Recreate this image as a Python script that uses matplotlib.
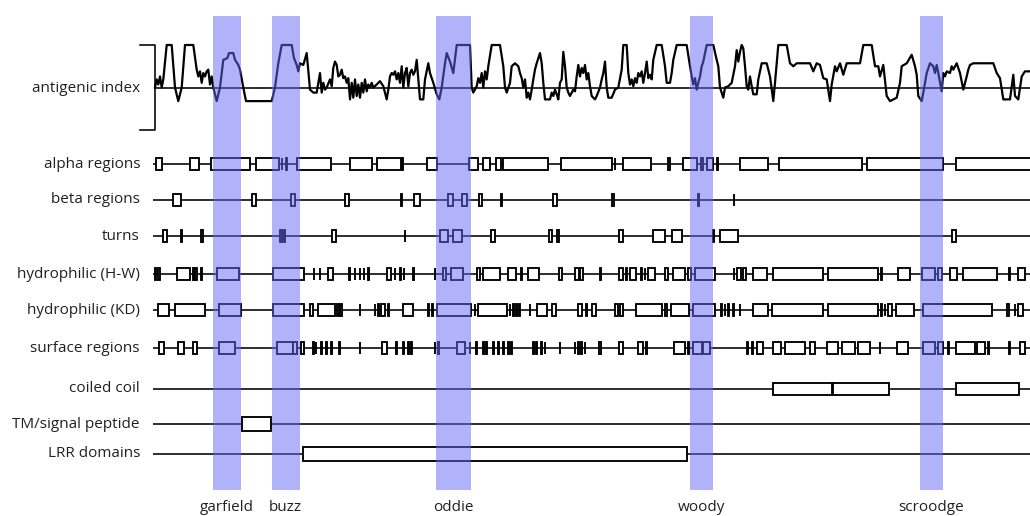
import matplotlib
matplotlib.use("Agg")
import matplotlib.pyplot as plt
from matplotlib.patches import Rectangle

plt.rcParams['font.family'] = ['Open Sans', 'DejaVu Sans']

# ---------------- data (positions along the sequence, drawing units) ----------------
anti_pos = [155.0, 156.7, 158.3, 160.0, 161.7, 163.3, 166.7, 171.7, 175.0, 178.3, 181.7, 185.0, 193.3,
            196.7, 198.3, 200.0, 201.7, 203.3, 205.0, 206.7, 208.3, 210.0, 211.7, 213.3, 216.7, 220.0,
            223.3, 227.3, 229.0, 233.3, 235.0, 238.3, 240.0, 243.3, 246.0, 271.7, 275.0, 278.3, 281.7,
            291.7, 294.0, 296.7, 298.3, 300.0, 303.3, 306.7, 310.0, 313.3, 316.7, 318.3, 320.0, 321.7,
            323.3, 325.0, 326.7, 330.0, 331.7, 333.3, 335.0, 336.7, 338.3, 340.0, 341.7, 343.3, 345.0,
            346.7, 348.3, 350.0, 351.7, 353.3, 355.0, 356.7, 358.3, 360.0, 361.7, 363.3, 365.0, 366.7,
            368.3, 370.0, 371.7, 373.3, 376.7, 380.0, 383.3, 386.7, 388.3, 390.0, 391.7, 393.3, 395.0,
            396.7, 398.3, 400.0, 401.7, 403.3, 405.0, 406.7, 408.3, 410.0, 411.7, 413.3, 415.0, 416.7,
            418.3, 420.0, 423.3, 425.0, 428.3,
            430.0, 433.3, 436.7, 439.3, 441.7, 445.0, 446.7, 450.0, 453.3, 456.7, 470.0, 471.7, 473.3,
            476.7, 478.3, 480.0, 481.7, 483.3, 485.0, 486.7, 488.3, 491.7, 500.0, 503.3, 505.0, 506.7,
            510.0, 511.7, 515.0, 518.3, 520.0, 521.7, 523.3, 525.0, 526.7, 528.3, 530.0, 531.7, 533.3,
            535.0, 536.7, 540.0, 541.7, 543.3, 545.0, 550.0, 551.7, 553.3, 555.0, 556.7, 558.3, 560.0,
            561.7, 563.3, 565.0, 566.7, 568.3, 570.0, 571.7, 573.3, 575.0, 576.7, 578.3, 580.0, 581.7,
            583.3, 585.0, 586.7, 588.3, 590.0, 591.7, 595.0, 596.7, 600.0, 601.7, 603.3, 605.0, 606.7,
            608.3, 611.7, 615.0, 618.3, 621.7, 623.3, 626.7, 628.3, 630.0, 631.7, 633.3, 635.0, 636.7,
            638.3, 640.0, 641.7, 643.3, 645.0, 646.7, 648.3, 650.0, 651.7, 653.3, 656.7, 661.7, 665.0,
            666.7, 670.0, 671.7, 673.3, 676.7, 686.7, 690.0, 691.7, 693.3, 695.0, 696.7, 698.3, 700.0,
            701.7, 703.3, 706.7, 713.3, 716.7, 718.3, 720.0,
            723.3, 725.0, 728.3, 731.7, 735.0, 736.7, 738.3, 740.0, 741.7, 743.3, 745.0, 746.7, 748.3,
            750.0, 751.7, 753.3, 756.7, 758.3, 761.7, 766.7, 770.0, 773.3, 775.0, 778.3, 786.7, 790.0,
            793.3, 796.7, 810.0, 813.3, 816.7, 820.0, 823.3, 826.7, 830.0, 831.7, 835.0, 836.7, 840.0,
            843.3, 846.7, 860.0, 863.3, 871.7, 875.0, 878.3, 880.0, 883.3, 886.7, 890.0, 893.3, 896.7,
            900.0, 901.7, 906.7, 911.7, 915.0, 916.7, 918.3, 921.7, 923.3, 926.7, 930.0, 933.3, 935.0,
            936.7, 938.3, 941.7, 943.3, 945.0, 946.7, 950.0, 951.7, 953.3, 956.7, 960.0, 963.3, 966.7,
            968.3, 970.0, 973.3, 993.3, 996.7, 1000.0, 1003.3, 1010.0, 1013.3, 1015.0, 1018.3, 1021.7,
            1025.0, 1030.0]
anti_val = [0.0, 0.19, 0.07, 0.26, 0.0, 0.19, 1.0, 1.0, 0.0, -0.32, 0.0, 1.0, 1.0,
            0.42, 0.26, 0.38, 0.11, 0.34, 0.26, 0.38, 0.42, 0.07, 0.26, 0.0, -0.32, 0.0,
            0.65, 0.69, 0.81, 0.81, 0.65, 0.53, 0.42, 0.0, -0.32, -0.32, 0.0, 0.57, 1.0,
            1.0, 0.69, 0.53, 0.38, 0.57, 0.53, 0.81, -0.05, -0.12, -0.12, 0.11, 0.34, -0.12,
            0.11, -0.05, 0.0, 0.19, 0.03, 0.46, 0.61, 0.53, 0.26, 0.30, 0.42, 0.22, 0.26,
            0.11, 0.22, -0.28, 0.11, -0.24, 0.19, -0.20, 0.07, -0.24, 0.11, -0.12, 0.19, -0.09,
            0.07, 0.0, 0.11, 0.0, 0.07, 0.15, 0.03, -0.28, -0.05, 0.26, 0.34, 0.30, 0.38,
            0.19, 0.34, 0.11, 0.50, 0.0, 0.34, 0.46, 0.03, 0.34, 0.42, 0.30, 0.38, 0.65,
            0.19, -0.28, -0.28, 0.19, 0.57,
            0.34, 0.11, -0.16, -0.28, 0.0, 0.57, 0.81, 0.61, 0.34, 1.0, 1.0, 0.0, -0.12,
            0.03, 0.22, 0.11, 0.34, 0.0, 0.38, 0.19, 0.50, 1.0, 1.0, 0.50, 0.0, -0.12,
            0.11, 0.50, 0.57, 0.50, 0.34, 0.22, 0.0, 0.19, -0.24, -0.12, -0.28, -0.05, 0.19,
            0.42, 0.57, 0.81, 0.57, 0.11, -0.28, -0.28, -0.12, -0.20, -0.05, -0.16, -0.28, 0.11,
            0.19, 0.84, 0.50, 0.0, -0.12, -0.20, -0.12, -0.05, -0.09, 0.26, 0.53, 0.26, 0.46,
            0.34, 0.53, 0.19, 0.34, 0.03, -0.20, -0.28, -0.20, 0.0, 0.19, 0.34, 0.61, 0.0,
            -0.24, -0.24, -0.05, 0.0, 0.42, 1.0, 1.0, 0.34, 0.07, 0.19, 0.03, 0.22, 0.11,
            0.34, 0.26, 0.38, 0.11, 0.34, 0.61, 0.22, 0.30, 0.19, 0.65, 1.0, 1.0, 0.50,
            0.11, 0.11, 0.34, 0.65, 1.0, 1.0, 0.50, 0.26, 0.07, 0.22, -0.05, 0.11, 0.26,
            0.50, 0.61, 1.0, 1.0, 0.65, 0.50, 0.0,
            -0.24, 0.0, 0.03, 0.11, 0.50, 0.88, 0.61, 0.84, 1.0, 0.92, 0.50, 0.03, -0.05,
            0.26, 0.03, -0.16, -0.16, 0.19, 0.57, 0.57, 0.26, -0.32, 0.11, 1.0, 1.0, 0.57,
            0.50, 0.57, 0.57, 0.38, 0.57, 0.53, 0.22, 0.19, -0.32, 0.07, 0.50, 0.38, 0.57,
            0.30, 0.57, 0.57, 1.0, 1.0, 0.50, 0.50, 0.26, 0.53, -0.20, -0.32, -0.28, -0.24,
            0.11, 0.50, 0.57, 0.77, 0.50, 0.30, -0.20, -0.32, -0.12, 0.34, 0.57, 0.50, 0.34,
            0.53, 0.34, -0.09, 0.34, 0.26, 0.38, 0.34, 0.50, 0.42, 0.57, 0.34, -0.05, 0.26,
            0.42, 0.53, 0.57, 0.57, 0.34, 0.22, -0.28, -0.28, 0.30, -0.20, -0.28, 0.26,
            0.38, 0.38]

track_names = ["alpha regions", "beta regions", "turns", "hydrophilic (H-W)", "hydrophilic (KD)",
               "surface regions", "coiled coil", "TM/signal peptide", "LRR domains"]

alpha_regions = [(156, 161.7), (190, 199.3), (210.7, 250), (256, 279.3), (281.5, 282.2), (286.3, 287),
                 (296.7, 330.7), (350, 371.7), (377.3, 400.7), (402.4, 403.1), (427.3, 437.3),
                 (469.3, 478.3), (482.7, 490), (496, 500.7), (502.7, 548.3), (561, 611.7), (614.7, 615.4),
                 (623.3, 650.7), (668.3, 670), (683.3, 696.7), (700.7, 702.7), (707.3, 712.7),
                 (717, 717.7), (740, 768.3), (779.3, 861.7), (866.7, 943.3), (956, 1032)]
beta_regions = [(173.3, 180.7), (251.7, 255.7), (291, 295), (345, 349.3), (401.4, 402.1), (414.3, 420),
                (448.3, 452.7), (462.3, 467.3), (479.3, 481.7), (501.4, 502.1), (552.7, 556.7),
                (611.7, 614), (698, 698.7), (733.7, 734.4)]
turns = [(163.3, 167.3), (181.4, 182.1), (200.7, 202.7), (280, 281.5), (283.5, 285), (331.7, 335.7),
         (404.7, 405.4), (440, 448.3), (452.7, 461.7), (491, 495), (549.3, 551.7), (556.7, 559.3),
         (619.3, 622.7), (652.7, 665), (671.7, 681.7), (713, 713.7), (720, 738.3), (952.3, 955.7)]
hydro_hw = [(154.7, 156), (158.3, 160), (177.3, 190), (192.7, 194.3), (195, 196.7), (201.4, 202.1),
            (217.3, 239.3), (273.3, 304), (313.7, 314.4), (319.7, 320.4), (328.3, 333.3),
            (349, 349.7), (354.7, 355.4), (359.7, 360.4), (363.7, 364.4), (368, 368.7),
            (386.7, 390.7), (394.7, 395.4), (399.5, 401), (403.7, 404.4), (413, 413.7),
            (434.7, 435.4), (442.7, 446), (450.7, 463.3), (476.7, 480), (482.7, 500), (508.3, 516),
            (521.4, 522.1), (528.3, 539.3), (559.3, 561.7), (575, 579.3), (580, 583.3), (600.4, 601.1),
            (619.3, 623.3), (626.4, 627.1), (630, 636), (641.4, 642.1), (644.7, 645.4), (648.3, 655),
            (665, 668.3), (672.7, 685), (688.3, 690.7), (695, 715), (733.7, 734.4), (737.3, 740.7),
            (743.3, 746), (752.7, 766.7), (773.3, 822.7), (827.7, 878.3), (881.4, 882.1),
            (898.3, 910), (921.7, 935), (938.3, 941.7), (950, 957.3), (962.7, 997.3),
            (1009, 1009.7), (1018.3, 1025)]
hydro_kd = [(158.3, 169.3), (175, 205), (219, 240.7), (273.3, 304), (310, 313.3), (318.3, 335),
            (337.3, 338.8), (340.2, 341.7), (359.7, 360.4), (374.7, 375.4), (378, 378.7), (380.7, 385),
            (388, 388.7), (402.7, 413.3), (428, 428.7), (432, 432.7), (436.5, 470.7), (474.7, 475.4),
            (478.3, 506.7), (509.7, 510.4), (513, 513.7), (516.4, 517.1), (519, 519.7), (529.7, 530.4),
            (536.7, 546.7), (551.7, 556), (578.3, 581.7), (586.4, 587.1), (591.7, 596), (615, 618.3),
            (620, 623.3), (636, 661.7), (665, 667.3), (670.7, 689.3), (693.3, 715), (721.4, 722.1),
            (724.7, 725.4), (727.5, 729), (733, 733.7), (739.7, 740.4), (753.3, 768.3),
            (771.7, 822.7), (828.3, 878.3), (881.4, 882.1), (884.7, 885.4), (888.3, 891.7),
            (896, 914), (923.3, 991.7), (1006.7, 1009.3), (1014.7, 1015.4), (1018.3, 1023.3)]
surface_regions = [(159.3, 164), (178.3, 184), (192.7, 196.7), (219.3, 235), (277.3, 292.7), (293.3, 296.7),
                   (300.7, 304), (313, 313.7), (315.7, 316.4), (321.4, 322.1), (326.4, 327.1),
                   (331.4, 332.1), (338.5, 340), (359.7, 360.4), (381.7, 386.7), (396.4, 397.1),
                   (403, 403.7), (408, 408.7), (411.4, 412.1), (434.7, 435.4), (438, 438.7),
                   (456.7, 465), (469.7, 470.4), (476.4, 477.1), (483, 483.7), (486.4, 487.1),
                   (493, 493.7), (498, 498.7), (503, 503.7), (508, 508.7), (511.4, 512.1),
                   (533, 533.7), (536.4, 537.1), (541.4, 542.1), (544.7, 545.4), (559.7, 560.4),
                   (574.7, 575.4), (578, 578.7), (581.4, 582.1), (584.7, 585.4), (599.3, 600.8),
                   (619.3, 623.3), (638.3, 643.3), (646.4, 647.1), (674, 685), (688, 688.7),
                   (693.3, 701.7), (703.3, 710), (747, 747.7), (752.4, 753.1), (757.3, 762.7),
                   (773.3, 780.7), (785, 805), (810, 815), (826.7, 838.3), (841.7, 855), (858.3, 870),
                   (879.7, 880.4), (896.7, 908.3), (923.3, 935), (938.3, 943.3), (947.6, 949),
                   (956, 975), (977.3, 985), (987.6, 989), (1009, 1009.7), (1020, 1025)]
coiled_coil = [(772.7, 831.7), (832.7, 889.3), (956, 1019.3)]
tm_signal = [(241.7, 270.7)]
lrr_domains = [(302.7, 686.7)]

band_names = ["garfield", "buzz", "oddie", "woody", "scroodge"]
band_start = [212.5, 271.5, 436, 690, 920]
band_end = [241, 300, 471, 713, 943]

# ---------------- layout ----------------
W, H = 1030, 516
fig = plt.figure(figsize=(W / 100, H / 100), dpi=100)
txt_color = '#231f20'
fs = 11

# tracks axes (pixel-like layout in y)
ax = fig.add_axes([0, 0, 1, 1])
ax.set_xlim(0, W)
ax.set_ylim(H, 0)
ax.axis('off')

row_y = [164, 199.5, 236, 274, 310, 348, 389, 424, 453.5]
row_h = [12, 12, 12, 12, 12, 12, 12, 14, 14]
tracks = [alpha_regions, beta_regions, turns, hydro_hw, hydro_kd, surface_regions,
          coiled_coil, tm_signal, lrr_domains]
line_start = 152.5
for name, yc, hh, segs in zip(track_names, row_y, row_h, tracks):
    ax.plot([line_start, W + 5], [yc, yc], color='black', lw=1.15, solid_capstyle='butt', zorder=2)
    for s, e in segs:
        ax.add_patch(Rectangle((s, yc - hh / 2), e - s, hh, facecolor='white',
                               edgecolor='black', lw=1.35, zorder=3))
    ax.text(140, yc, name, ha='right', va='center', fontsize=fs, color=txt_color)

# antigenic index axes: y from -1 (pixel 130) to +1 (pixel 45)
top_px, bot_px = 45, 130
ax_a = fig.add_axes([0, 1 - bot_px / H, 1, (bot_px - top_px) / H])
ax_a.set_xlim(0, W)
ax_a.set_ylim(-1, 1)
ax_a.axis('off')
ax_a.plot([155, W + 5], [0, 0], color='black', lw=1.15, zorder=2, clip_on=False)
ax_a.plot([140, 155, 155, 140], [1, 1, -1, -1], color='black', lw=1.15, zorder=2, clip_on=False)
ax_a.plot(anti_pos, anti_val, color='black', lw=1.6, zorder=3, clip_on=False)
ax.text(140, 88, "antigenic index", ha='right', va='center', fontsize=fs, color=txt_color)

# overlay axes for bands
ax_o = fig.add_axes([0, 0, 1, 1])
ax_o.set_xlim(0, W)
ax_o.set_ylim(H, 0)
ax_o.axis('off')
ax_o.patch.set_alpha(0)
for nm, s, e in zip(band_names, band_start, band_end):
    ax_o.add_patch(Rectangle((s, 16), e - s, 490 - 16, facecolor=(0.39, 0.41, 0.96),
                             edgecolor='none', alpha=0.5, zorder=10))
    ax_o.text((s + e) / 2, 507.5, nm, ha='center', va='center', fontsize=fs, color=txt_color)

fig.savefig('out.png', dpi=100)
